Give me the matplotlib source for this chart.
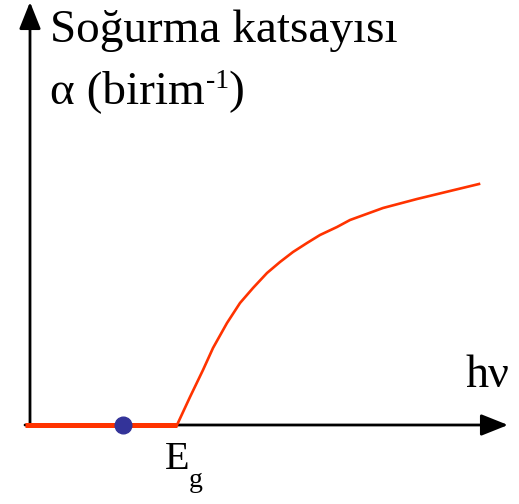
import matplotlib.pyplot as plt

plt.rcParams['font.family'] = ['Liberation Serif', 'DejaVu Serif']

# curve (pixel-like units, y grows downward)
curve_x = [177, 190, 203, 213, 227, 240, 253, 267, 280, 293, 307, 320, 337, 350, 383, 417, 450, 479]
curve_y = [425, 397, 370, 348, 323, 303, 288, 273, 262, 252, 243, 235, 227, 220, 208, 199, 191, 184]
flat_x = [25, 177]
flat_y = [425, 425]
dot_x, dot_y = 123, 425

fig = plt.figure(figsize=(5.19, 5.04), dpi=100)
ax = fig.add_axes([0, 0, 1, 1])
ax.set_xlim(0, 519)
ax.set_ylim(504, 0)
ax.axis('off')

# axes arrows (kept under the red lines)
style = '-|>,head_length=0.75,head_width=0.3'
ax.annotate('', xy=(30, 2), xytext=(30, 425), zorder=1,
            arrowprops=dict(arrowstyle=style, color='black', lw=2,
                            mutation_scale=22, shrinkA=0, shrinkB=0))
ax.annotate('', xy=(508, 425), xytext=(25, 425), zorder=1,
            arrowprops=dict(arrowstyle=style, color='black', lw=2,
                            mutation_scale=22, shrinkA=0, shrinkB=0))

ax.plot(curve_x, curve_y, color='#ff3300', lw=1.9, solid_joinstyle='round', zorder=3)
ax.plot(flat_x, flat_y, color='#ff3300', lw=3.6, solid_capstyle='butt', zorder=3)
ax.plot(dot_x, dot_y, 'o', color='#333399', ms=12, zorder=4)

ax.text(50, 42, 'Soğurma katsayısı', fontsize=34, va='baseline')

# alpha line with a small superscript
fig.canvas.draw()
r = fig.canvas.get_renderer()
inv = ax.transData.inverted()
t1 = ax.text(50, 103, 'α (birim', fontsize=34, va='baseline')
x1 = inv.transform(t1.get_window_extent(r).get_points())[1][0]
t2 = ax.text(x1 + 1, 88, '-1', fontsize=20, va='baseline')
x2 = inv.transform(t2.get_window_extent(r).get_points())[1][0]
ax.text(x2, 103, ')', fontsize=34, va='baseline')

ax.text(465, 387, 'hν', fontsize=33, va='baseline')

t3 = ax.text(165, 469, 'E', fontsize=29, va='baseline')
x3 = inv.transform(t3.get_window_extent(r).get_points())[1][0]
ax.text(x3 - 1, 487, 'g', fontsize=20, va='baseline')

fig.savefig('out.png', dpi=100)
